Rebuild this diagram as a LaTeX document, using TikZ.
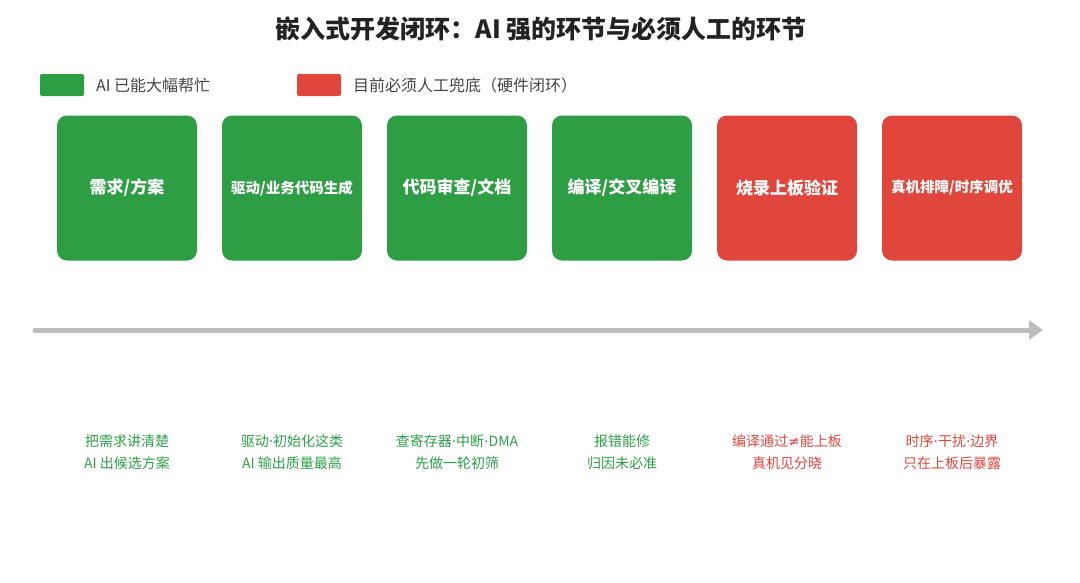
\documentclass[tikz,border=0pt]{standalone}
\usepackage{fontspec}
\setmainfont{Noto Sans CJK SC}
\newfontfamily\symfont{DejaVu Sans}
\newcommand{\md}{{\symfont ·}}
\newcommand{\notequal}{{\symfont ≠}}
\usetikzlibrary{arrows.meta}
\definecolor{aigreen}{HTML}{2E9E45}
\definecolor{handred}{HTML}{E0463C}
\definecolor{axisgray}{HTML}{BDBDBD}
\definecolor{titleink}{HTML}{222222}
\definecolor{legendink}{HTML}{444444}

\begin{document}
\begin{tikzpicture}[x=1pt,y=-1pt,node distance=165pt,
    stage node/.style={rounded corners=10pt,minimum width=140pt,minimum height=145pt,inner sep=0pt,text=white,font=\bfseries\fontsize{17}{20}\selectfont},
    ai/.style={stage node,fill=aigreen},
    hand/.style={stage node,fill=handred},
    note/.style={align=center,inner sep=0pt,font=\fontsize{14}{22}\selectfont},
    key/.style={rounded corners=2pt,minimum width=44pt,minimum height=22pt,inner sep=0pt},
    key text/.style={anchor=west,inner sep=0pt,text=legendink,font=\fontsize{16}{18}\selectfont}]
            \useasboundingbox (0,0) rectangle (1080,582);

            \node[titleink,font=\bfseries\fontsize{25}{28}\selectfont] (title) at (541,29) {嵌入式开发闭环：AI 强的环节与必须人工的环节};

            % legend
            \node[key,fill=aigreen] (k1) at (62,85) {};
            \node[key text] (l1) at (96,85) {AI 已能大幅帮忙};
            \node[key,fill=handred] (k2) at (319,85) {};
            \node[key text] (l2) at (353,85) {目前必须人工兜底（硬件闭环）};

            % stages
            \node[ai] (1) at (127,188) {需求/方案};
            \node[ai,font=\bfseries\fontsize{14.5}{18}\selectfont] (2) [right of=1] {驱动/业务代码生成};
            \node[ai] (3) [right of=2] {代码审查/文档};
            \node[ai] (4) [right of=3] {编译/交叉编译};
            \node[hand] (5) [right of=4] {烧录上板验证};
            \node[hand,font=\bfseries\fontsize{14.5}{18}\selectfont] (6) [right of=5] {真机排障/时序调优};

            % axis
            \coordinate (start) at (35,330);
            \coordinate (end) at (1043,330);
            \draw[axisgray,line width=5pt,line cap=round,-{Triangle[length=14pt,width=19pt]}] (start) -- (end);

            % notes
            \node[note,text=aigreen,node distance=264pt,below of=1] (n1) {把需求讲清楚\\AI 出候选方案};
            \node[note,text=aigreen,node distance=264pt,below of=2] (n2) {驱动\md 初始化这类\\AI 输出质量最高};
            \node[note,text=aigreen,node distance=264pt,below of=3] (n3) {查寄存器\md 中断\md DMA\\先做一轮初筛};
            \node[note,text=aigreen,node distance=264pt,below of=4] (n4) {报错能修\\归因未必准};
            \node[note,text=handred,node distance=264pt,below of=5] (n5) {编译通过\notequal 能上板\\真机见分晓};
            \node[note,text=handred,node distance=264pt,below of=6] (n6) {时序\md 干扰\md 边界\\只在上板后暴露};
        \end{tikzpicture}
\end{document}
